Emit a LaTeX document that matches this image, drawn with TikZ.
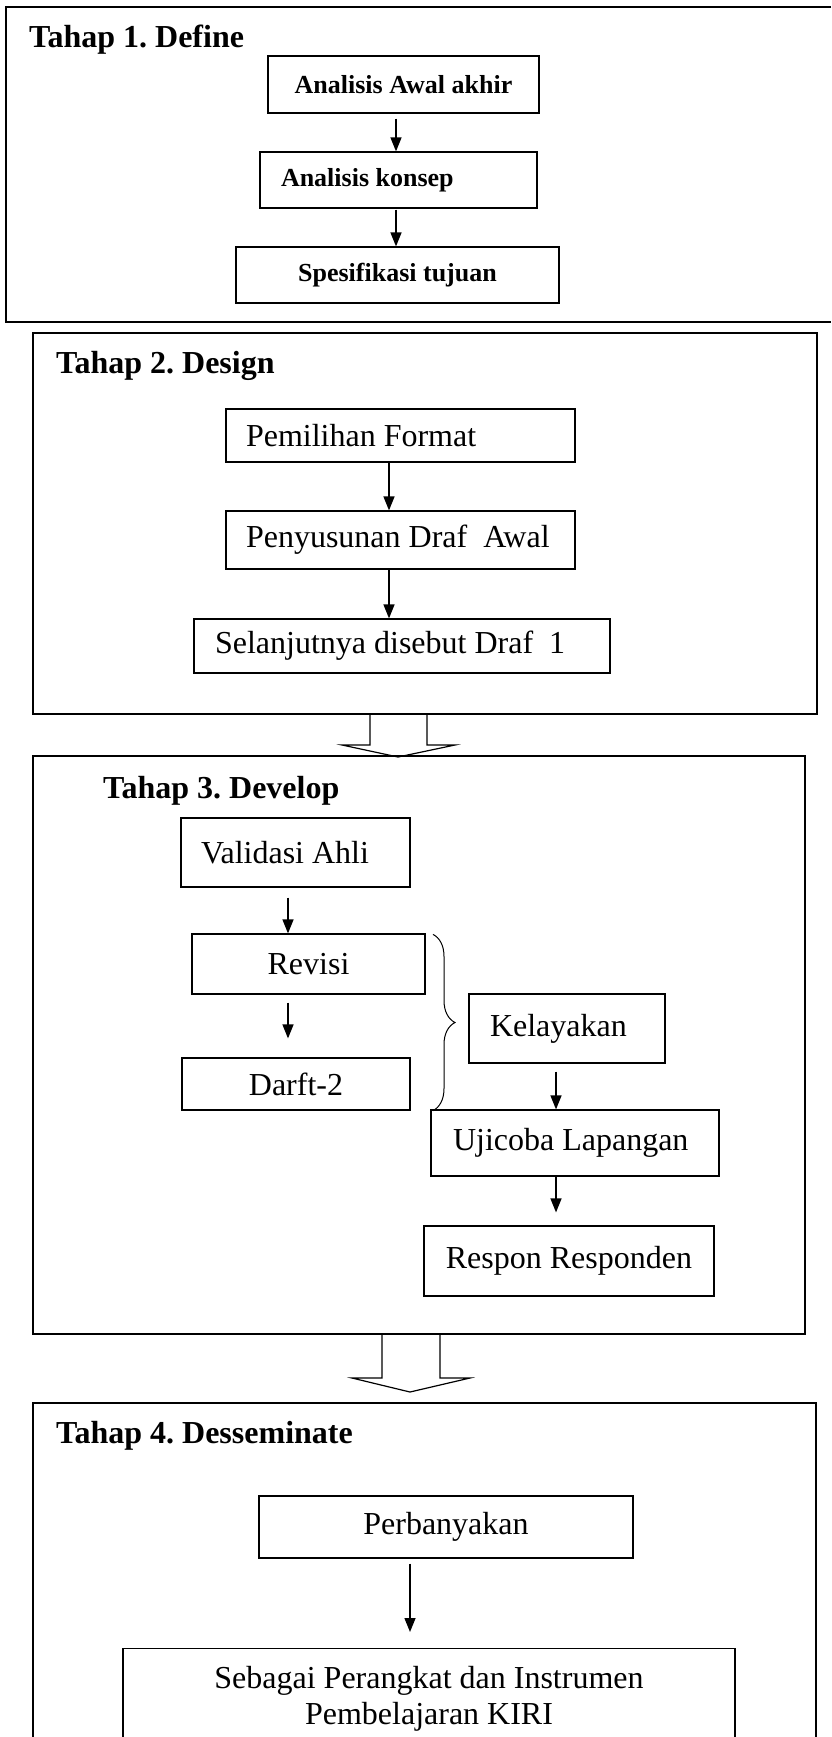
\documentclass[tikz,border=0pt]{standalone}
\usepackage{fontspec}
\setmainfont{Liberation Serif}
\usetikzlibrary{arrows.meta,calc,decorations.pathreplacing}
\frenchspacing
\newcommand\bodyfont{\fontsize{32}{36}\selectfont\frenchspacing}
\newcommand\boldsmall{\fontsize{26}{30}\selectfont\bfseries\frenchspacing}
\newcommand\titlefont{\fontsize{32}{36}\selectfont\bfseries\frenchspacing}
\newcommand\lbox[2]{\makebox[#1][l]{#2}}
\newcommand\cbox[2]{\makebox[#1][c]{#2}}
\tikzset{
  boxc/.style={draw, line width=1.2pt, inner xsep=0pt, inner ysep=0pt, font=\bodyfont},
  boxl/.style={draw, line width=1.2pt, inner ysep=0pt, font=\bodyfont},
  arr/.style={line width=1.4pt, -{Triangle[length=14pt,width=11pt]}},
  frame/.style={line width=1.6pt},
  blockarrow/.style={line width=1.2pt, line join=miter},
  titletext/.style={anchor=base west, inner sep=0pt, font=\titlefont}
}
\begin{document}
\begin{tikzpicture}[x=1pt,y=1pt]
\useasboundingbox (0,0) rectangle (831,-1737);
\clip (0,0) rectangle (831,-1737);
\fill[white] (0,0) rectangle (831,-1737);

% ---------- Frames ----------
\draw[frame, line width=2pt] (831,-7) -- (6,-7) -- (6,-322) -- (831,-322);
\draw[frame] (33,-333) rectangle (817,-714);
\draw[frame] (33,-756) rectangle (805,-1334);
\draw[frame] (33,-1760) -- (33,-1403) -- (816,-1403) -- (816,-1760);

% ---------- Block arrows ----------
\draw[blockarrow] (370,-714) -- (370,-745) -- (342,-745) -- (398,-757) -- (455,-745) -- (427,-745) -- (427,-714);
\draw[blockarrow] (382,-1334) -- (382,-1378) -- (352,-1378) -- (410,-1392) -- (470,-1378) -- (440,-1378) -- (440,-1334);

% ---------- Titles ----------
\node[titletext] (t1) at (29,-48) {Tahap 1. Define};
\node[titletext] (t2) at (56,-373) {Tahap 2. Design};
\node[titletext] (t3) at (103,-798) {Tahap 3. Develop};
\node[titletext] (t4) at (56,-1443) {Tahap 4. Desseminate};

% ---------- Stage 1 ----------
\node[boxc, font=\boldsmall, minimum height=57pt] (a1) at (403.5,-84.5) {\cbox{271pt}{Analisis Awal akhir}};
\node[boxl, font=\boldsmall, inner xsep=21pt, minimum height=56pt] (a2) at (398.5,-180) {\lbox{235pt}{Analisis konsep}};
\node[boxc, font=\boldsmall, minimum height=56pt] (a3) at (397.5,-275) {\cbox{323pt}{Spesifikasi tujuan}};

% ---------- Stage 2 ----------
\node[boxl, inner xsep=20pt, minimum height=53pt] (b1) at (400.5,-435.5) {\lbox{309pt}{Pemilihan Format}};
\node[boxl, inner xsep=20pt, minimum height=58pt] (b2) at (400.5,-540) {\lbox{309pt}{Penyusunan Draf\ \ Awal}};
\node[boxl, inner xsep=21pt, minimum height=54pt] (b3) at (402,-646) {\lbox{374pt}{Selanjutnya disebut Draf\ \ 1}};

% ---------- Stage 3 ----------
\node[boxl, inner xsep=20pt, minimum height=69pt] (c1) at (295.5,-852.5) {\lbox{189pt}{Validasi Ahli}};
\node[boxc, minimum height=60pt] (c2) at (308.5,-964) {\cbox{233pt}{Revisi}};
\node[boxc, minimum height=52pt] (c3) at (296,-1084) {\cbox{228pt}{Darft-2}};
\node[boxl, inner xsep=21pt, minimum height=69pt] (c4) at (567,-1028.5) {\lbox{154pt}{Kelayakan}};
\node[boxl, inner xsep=22pt, minimum height=66pt] (c5) at (575,-1143) {\lbox{244pt}{Ujicoba Lapangan}};
\node[boxc, minimum height=70pt] (c6) at (569,-1261) {\cbox{290pt}{Respon Responden}};

% ---------- Stage 4 ----------
\node[boxc, minimum height=62pt] (d1) at (446,-1527) {\cbox{374pt}{Perbanyakan}};
\node[boxc, anchor=north, minimum width=612pt, align=center, inner ysep=18pt] (d2) at (429,-1648) {Sebagai Perangkat dan Instrumen\\Pembelajaran KIRI};

% ---------- Arrow x positions ----------
\coordinate (xa) at (396,0);
\coordinate (xb) at (389,0);
\coordinate (xc) at (288,0);
\coordinate (xd) at (556,0);
\coordinate (xe) at (410,0);
\coordinate (xbr) at (433,0);

% ---------- Arrows ----------
\draw[arr] ([yshift=-5pt]a1.south -| xa) -- (a2.north -| xa);
\draw[arr] ([yshift=-1pt]a2.south -| xa) -- (a3.north -| xa);
\draw[arr] (b1.south -| xb) -- (b2.north -| xb);
\draw[arr] (b2.south -| xb) -- (b3.north -| xb);
\draw[arr] ([yshift=-10pt]c1.south -| xc) -- (c2.north -| xc);
\draw[arr] ([yshift=-8pt]c2.south -| xc) -- ([yshift=19pt]c3.north -| xc);
\draw[arr] ([yshift=-8pt]c4.south -| xd) -- (c5.north -| xd);
\draw[arr] (c5.south -| xd) -- ([yshift=13pt]c6.north -| xd);
\draw[arr] ([yshift=-5pt]d1.south -| xe) -- ([yshift=16pt]d2.north -| xe);

% ---------- Brace ----------
\draw[line width=1pt, decorate, decoration={brace, amplitude=22pt}] ([yshift=-1pt]c2.north -| xbr) -- (c3.south -| xbr);
\end{tikzpicture}
\end{document}
